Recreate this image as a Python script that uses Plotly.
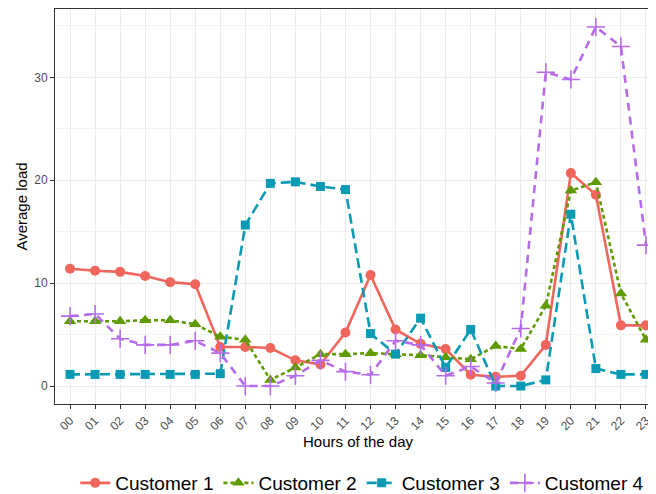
import plotly.graph_objects as go

hours = [f"{h:02d}" for h in range(24)]
customer1 = [11.4, 11.2, 11.1, 10.7, 10.1, 9.9, 3.8, 3.8, 3.7, 2.5, 2.1, 5.2,
             10.8, 5.5, 4.1, 3.6, 1.1, 0.9, 1.0, 4.0, 20.7, 18.6, 5.9, 5.9]
customer2 = [6.3, 6.3, 6.3, 6.4, 6.4, 6.0, 4.8, 4.5, 0.6, 1.8, 3.1, 3.1,
             3.2, 3.1, 3.0, 2.8, 2.6, 3.9, 3.6, 7.8, 19.0, 19.8, 9.0, 4.5]
customer3 = [1.13, 1.13, 1.13, 1.13, 1.13, 1.13, 1.2, 15.65, 19.7, 19.85, 19.4, 19.1,
             5.1, 3.1, 6.6, 1.8, 5.5, 0.0, 0.0, 0.6, 16.7, 1.7, 1.13, 1.13]
customer4 = [6.8, 7.0, 4.6, 4.0, 4.0, 4.4, 3.2, 0.0, 0.0, 1.0, 2.5, 1.4,
             1.1, 4.4, 4.0, 1.0, 1.9, 0.3, 5.6, 30.5, 29.8, 34.9, 33.0, 13.7]
names = ["Customer 1", "Customer 2", "Customer 3", "Customer 4"]
colors = ["#F0665C", "#5E9A00", "#0A9AB4", "#B66BEA"]

x_idx = list(range(24))
fig = go.Figure()
specs = [
    (customer1, "solid", dict(symbol="circle", size=10)),
    (customer2, "4px,3px", dict(symbol="triangle-up", size=11)),
    (customer3, "10px,5px", dict(symbol="square", size=9)),
    (customer4, "8px,6px", dict(symbol="cross-thin", size=13)),
]
for name, color, (vals, dash, mk) in zip(names, colors, specs):
    marker = dict(color=color, **mk)
    if mk["symbol"] == "cross-thin":
        marker["line"] = dict(color=color, width=1.6)
    fig.add_trace(go.Scatter(
        x=x_idx, y=vals, name=name, mode="lines+markers",
        line=dict(color=color, width=2.6, dash=dash),
        marker=marker,
    ))

# page body has an 8px margin; the panel runs past the right edge of the window
fig.update_layout(
    width=660, height=500,
    margin=dict(l=47, r=7, t=1, b=104),
    paper_bgcolor="white", plot_bgcolor="white",
    font=dict(family="Liberation Sans, Arial, sans-serif", color="black"),
    showlegend=True,
    legend=dict(orientation="h", x=0.507, xanchor="center", y=-0.2, yanchor="middle",
                font=dict(size=19, color="black"), itemwidth=30,
                bgcolor="rgba(0,0,0,0)"),
)
fig.update_xaxes(
    range=[-0.6, 23.6], tickmode="array", tickvals=x_idx, ticktext=hours,
    tickangle=-45, tickfont=dict(size=12, color="#4D4D4D"),
    showgrid=True, gridcolor="#EBEBEB", gridwidth=1,
    showline=True, linecolor="#333333", linewidth=1, mirror=True,
    ticks="outside", ticklen=4, tickcolor="#333333",
    zeroline=False,
    title=dict(text="Hours of the day", font=dict(size=15, color="black"), standoff=0),
)
fig.update_yaxes(
    range=[-1.745, 36.65], tickmode="array", tickvals=[0, 10, 20, 30],
    tickfont=dict(size=12, color="#4D4D4D"),
    showgrid=True, gridcolor="#EBEBEB", gridwidth=1,
    minor=dict(tickvals=[5, 15, 25, 35], showgrid=True, gridcolor="#F2F2F2", ticks=""),
    showline=True, linecolor="#333333", linewidth=1, mirror=True,
    ticks="outside", ticklen=4, tickcolor="#333333",
    zeroline=False,
    title=dict(text="Average load", font=dict(size=15, color="black"), standoff=2),
)
fig.write_html("out.html")
